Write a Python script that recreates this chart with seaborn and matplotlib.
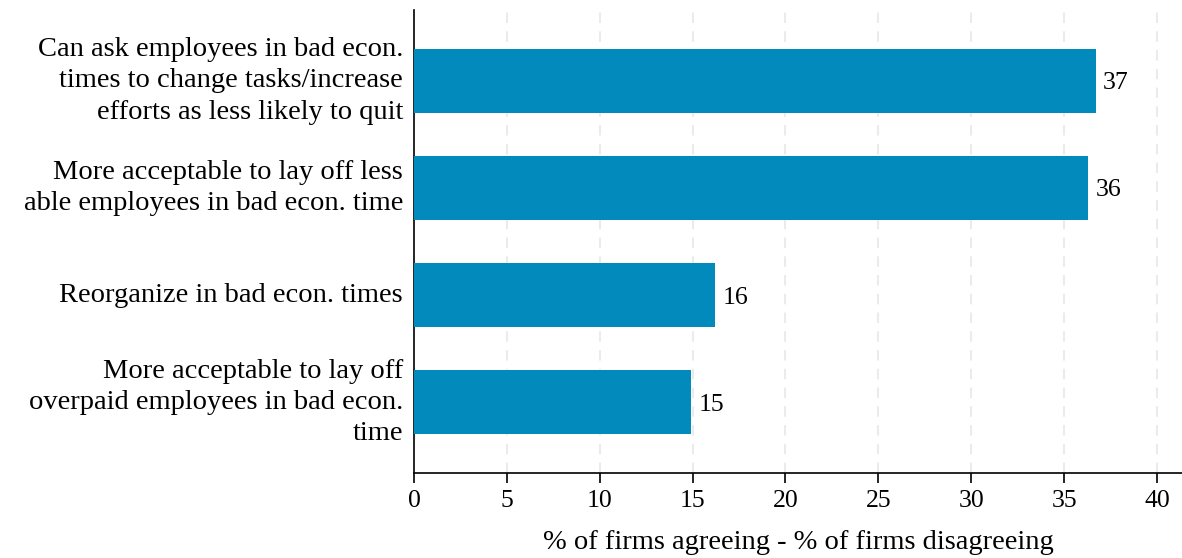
import pandas as pd
import matplotlib.pyplot as plt
import seaborn as sns

# Data
statements = [
    "Can ask employees in bad econ.\ntimes to change tasks/increase\nefforts as less likely to quit",
    "More acceptable to lay off less\nable employees in bad econ. time",
    "Reorganize in bad econ. times",
    "More acceptable to lay off\noverpaid employees in bad econ.\ntime",
]
net_share = [36.7, 36.3, 16.2, 14.9]

df = pd.DataFrame({"Statement": statements, "Net": net_share})

sns.set_style("white")
plt.rcParams["font.family"] = ["Liberation Serif", "DejaVu Serif"]
plt.rcParams["text.color"] = "black"
plt.rcParams["xtick.color"] = "black"
plt.rcParams["ytick.color"] = "black"
plt.rcParams["axes.labelcolor"] = "black"

fig = plt.figure(figsize=(11.82, 5.58), dpi=100)
ax = fig.add_axes([0.3503, 0.1523, 0.6497, 0.8297])

sns.barplot(data=df, x="Net", y="Statement", color="#028abd",
            saturation=1, width=0.6, linewidth=0, ax=ax, zorder=3)

# dashed vertical grid
for xv in range(5, 45, 5):
    ax.axvline(xv, color="#ebebeb", linestyle=(0, (5, 4)), linewidth=1.5, zorder=1)

# value labels
for i, v in enumerate(net_share):
    ax.text(v + 0.4, i, f"{v:.0f}", va="center_baseline", ha="left", fontsize=18.5, zorder=4)

ax.set_xlim(0, 41.35)
ax.set_ylim(3.66, -0.66)
ax.set_xticks(range(0, 45, 5))
ax.set_xlabel("% of firms agreeing - % of firms disagreeing", fontsize=20.5, labelpad=13)
ax.set_ylabel("")
ax.tick_params(axis="x", direction="out", length=7, width=1.2, labelsize=18.5, pad=5, bottom=True)
ax.tick_params(axis="y", length=0, labelsize=20.5, pad=8)
for lbl in ax.get_yticklabels():
    lbl.set_linespacing(1.33)
    lbl.set_verticalalignment("center")

for side in ["top", "right"]:
    ax.spines[side].set_visible(False)
for side in ["left", "bottom"]:
    ax.spines[side].set_color("black")
    ax.spines[side].set_linewidth(1.2)

fig.savefig("out.png", dpi=100)
